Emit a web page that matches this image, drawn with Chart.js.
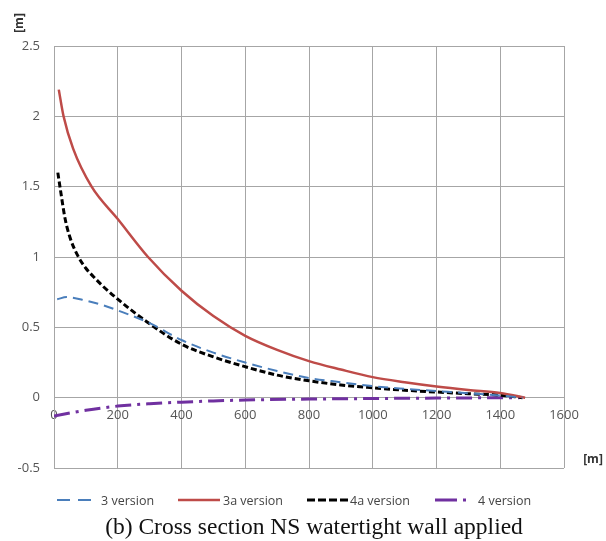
<!DOCTYPE html>
<html>
<head>
<meta charset="utf-8">
<script src="https://cdn.jsdelivr.net/npm/chart.js@4.4.1/dist/chart.umd.min.js"></script>
<style>
  html, body { margin: 0; padding: 0; background: #fff; }
  #wrap { width: 606px; height: 541px; }
</style>
</head>
<body>
<div id="wrap"><canvas id="chart" width="606" height="541"></canvas></div>
<script>
  // distances along the section [m] and water level [m]
  var dist3 = [10, 40, 100, 150, 200, 300, 400, 500, 600, 700, 800, 900, 1000, 1100, 1200, 1300, 1400, 1470];
  var level3 = [0.70, 0.715, 0.69, 0.66, 0.62, 0.53, 0.41, 0.32, 0.25, 0.19, 0.14, 0.11, 0.082, 0.063, 0.047, 0.031, 0.016, 0];

  var dist3a = [15, 30, 60, 118, 200, 295, 400, 500, 600, 700, 800, 900, 1000, 1100, 1200, 1300, 1400, 1478];
  var level3a = [2.19, 2.0, 1.77, 1.5, 1.27, 1.0, 0.76, 0.58, 0.44, 0.34, 0.26, 0.2, 0.146, 0.11, 0.08, 0.055, 0.033, 0];

  var dist4a = [12, 20, 35, 50, 72, 100, 124, 150, 200, 291, 400, 500, 600, 700, 800, 900, 1000, 1100, 1200, 1300, 1400, 1470];
  var level4a = [1.6, 1.48, 1.27, 1.14, 1.02, 0.92, 0.86, 0.8, 0.70, 0.54, 0.38, 0.29, 0.22, 0.16, 0.12, 0.09, 0.07, 0.053, 0.04, 0.028, 0.018, 0];

  var dist4 = [0, 100, 200, 300, 400, 500, 600, 800, 1000, 1200, 1460];
  var level4 = [-0.13, -0.09, -0.06, -0.043, -0.032, -0.023, -0.017, -0.01, -0.006, -0.003, 0];

  var seriesNames = ['3 version', '3a version', '4a version', '4 version'];
  var X_MIN = 0, X_MAX = 1600, X_STEP = 200;
  var Y_MIN = -0.5, Y_MAX = 2.5, Y_STEP = 0.5;
  var caption = '(b) Cross section NS watertight wall applied';

  var GRID = '#a6a6a6';
  var TXT = '#555';

  function pts(xs, ys) {
    return xs.map(function (x, i) { return { x: x, y: ys[i] }; });
  }

  function plainNum(v) {
    return String(Math.round(v * 100) / 100);
  }

  // x positions of the legend samples/text, like the original figure
  var legendSlots = [
    { x0: 57, x1: 92, tx: 101 },
    { x0: 178, x1: 220, tx: 223 },
    { x0: 307, x1: 349, tx: 350 },
    { x0: 435, x1: 468, tx: 478 }
  ];

  var extrasPlugin = {
    id: 'extras',
    afterDraw: function (chart) {
      var ctx = chart.ctx;
      ctx.save();
      // legend
      ctx.font = '12.5px "Open Sans", sans-serif';
      ctx.textBaseline = 'middle';
      chart.data.datasets.forEach(function (ds, i) {
        var s = legendSlots[i];
        var y = 500;
        ctx.strokeStyle = ds.borderColor;
        ctx.lineWidth = ds.borderWidth;
        ctx.setLineDash(ds.legendDash || ds.borderDash || []);
        ctx.beginPath();
        ctx.moveTo(s.x0, y);
        ctx.lineTo(s.x1, y);
        ctx.stroke();
        ctx.setLineDash([]);
        ctx.fillStyle = '#444';
        ctx.textAlign = 'left';
        ctx.fillText(ds.label, s.tx, y + 1);
      });

      // axis unit labels
      ctx.fillStyle = '#333';
      ctx.font = 'bold 12px "Open Sans", sans-serif';
      ctx.textAlign = 'center';
      ctx.fillText('[m]', 593, 460);
      ctx.translate(20, 23);
      ctx.rotate(-Math.PI / 2);
      ctx.fillText('[m]', 0, 0);
      ctx.restore();

      // caption
      ctx.save();
      ctx.fillStyle = '#111';
      ctx.font = '23.5px "Liberation Serif", "Times New Roman", serif';
      ctx.textAlign = 'center';
      ctx.textBaseline = 'alphabetic';
      ctx.fillText(caption, 314, 534);
      ctx.restore();
    }
  };

  Chart.defaults.font.family = '"Open Sans", sans-serif';

  new Chart(document.getElementById('chart').getContext('2d'), {
    type: 'line',
    data: {
      datasets: [
        {
          label: seriesNames[0],
          data: pts(dist3, level3),
          borderColor: '#4a7ebb',
          borderWidth: 2,
          borderDash: [10, 6],
          legendDash: [13, 8]
        },
        {
          label: seriesNames[1],
          data: pts(dist3a, level3a),
          borderColor: '#be4b48',
          borderWidth: 2.5
        },
        {
          label: seriesNames[2],
          data: pts(dist4a, level4a),
          borderColor: '#000',
          borderWidth: 3,
          borderDash: [6, 3],
          legendDash: [8, 3]
        },
        {
          label: seriesNames[3],
          data: pts(dist4, level4),
          borderColor: '#7030a0',
          borderWidth: 3,
          borderDash: [16, 6, 3, 6],
          legendDash: [22, 6, 3, 40]
        }
      ]
    },
    options: {
      responsive: false,
      animation: false,
      layout: { padding: { top: 46, right: 42, bottom: 73, left: 0 } },
      elements: {
        point: { radius: 0 },
        line: { cubicInterpolationMode: 'monotone', fill: false }
      },
      plugins: {
        legend: { display: false },
        tooltip: { enabled: false }
      },
      scales: {
        x: {
          type: 'linear',
          position: { y: 0 },
          min: X_MIN,
          max: X_MAX,
          ticks: {
            stepSize: X_STEP, color: TXT, font: { size: 13 }, padding: 10, maxRotation: 0,
            callback: plainNum
          },
          grid: { color: GRID, drawTicks: false },
          border: { color: GRID }
        },
        y: {
          min: Y_MIN,
          max: Y_MAX,
          ticks: { stepSize: Y_STEP, color: TXT, font: { size: 13 }, padding: 14, callback: plainNum },
          grid: { color: GRID, drawTicks: false },
          border: { color: GRID },
          afterFit: function (scale) { scale.width = 54; }
        }
      }
    },
    plugins: [extrasPlugin]
  });
</script>
</body>
</html>
